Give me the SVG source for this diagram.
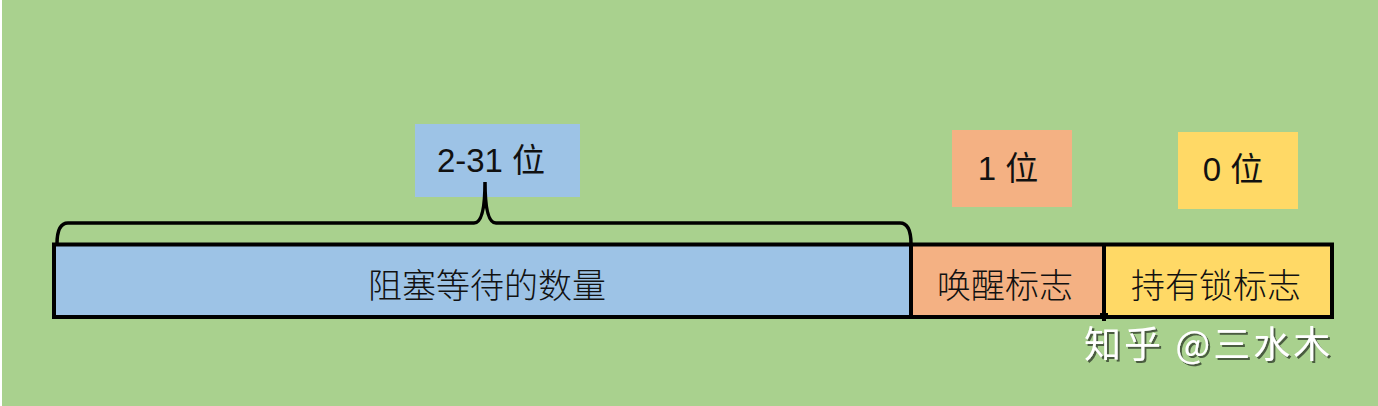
<svg xmlns="http://www.w3.org/2000/svg" width="1378" height="406" viewBox="0 0 1378 406">
  <defs>
    <style>
      .lbl { font-family: "Liberation Sans", "Noto Sans CJK SC", sans-serif; font-size: 33px; fill: #111; text-anchor: middle; }
      .cjk { font-family: "Noto Sans CJK SC", sans-serif; font-size: 34px; fill: #111; text-anchor: middle; font-weight: 300; }
      .edge { fill: none; stroke: #000; stroke-width: 4; }
      .wm { font-family: "Noto Sans CJK SC", sans-serif; font-size: 37px; fill: #fff; filter: url(#sh); letter-spacing: 3px; }
    </style>
    <filter id="sh" x="-10%" y="-30%" width="130%" height="160%">
      <feDropShadow dx="2" dy="2" stdDeviation="0.6" flood-color="#3a4a30" flood-opacity="0.85"/>
    </filter>
  </defs>
  <rect x="0" y="0" width="1378" height="406" fill="#ffffff"/>
  <rect x="2" y="0" width="1376" height="406" fill="#A9D18E"/>

  <g id="label-2-31">
    <rect x="415" y="124" width="165" height="73" fill="#9DC3E6"/>
    <text class="lbl" x="491" y="172">2-31 位</text>
  </g>
  <g id="label-1">
    <rect x="952" y="130" width="120" height="77" fill="#F4B183"/>
    <text class="lbl" x="1008" y="180">1 位</text>
  </g>
  <g id="label-0">
    <rect x="1178" y="132" width="120" height="77" fill="#FFD966"/>
    <text class="lbl" x="1233" y="181">0 位</text>
  </g>

  <g id="field-count">
    <rect x="56" y="246" width="853" height="69" fill="#9DC3E6"/>
    <text class="cjk" x="487" y="298">阻塞等待的数量</text>
  </g>
  <g id="field-wake">
    <rect x="913" y="246" width="189" height="69" fill="#F4B183"/>
    <text class="cjk" x="1005" y="298">唤醒标志</text>
  </g>
  <g id="field-lock">
    <rect x="1106" y="246" width="225" height="69" fill="#FFD966"/>
    <text class="cjk" x="1216" y="298">持有锁标志</text>
  </g>

  <g id="connectors">
    <rect class="edge" x="54" y="244.5" width="1278" height="72.5"/>
    <line class="edge" x1="911" y1="244.5" x2="911" y2="317"/>
    <line class="edge" x1="1104" y1="246" x2="1104" y2="321"/>
    <rect x="1100" y="313" width="8" height="5" fill="#000"/>
    <path d="M57,244 Q57,223 68,223 L474,223 Q485,223 485,182 Q485,223 496,223 L900,223 Q911,223 911,244" fill="none" stroke="#000" stroke-width="3.5"/>
  </g>

  <text class="wm" x="1084" y="358">知乎 @三水木</text>
</svg>
